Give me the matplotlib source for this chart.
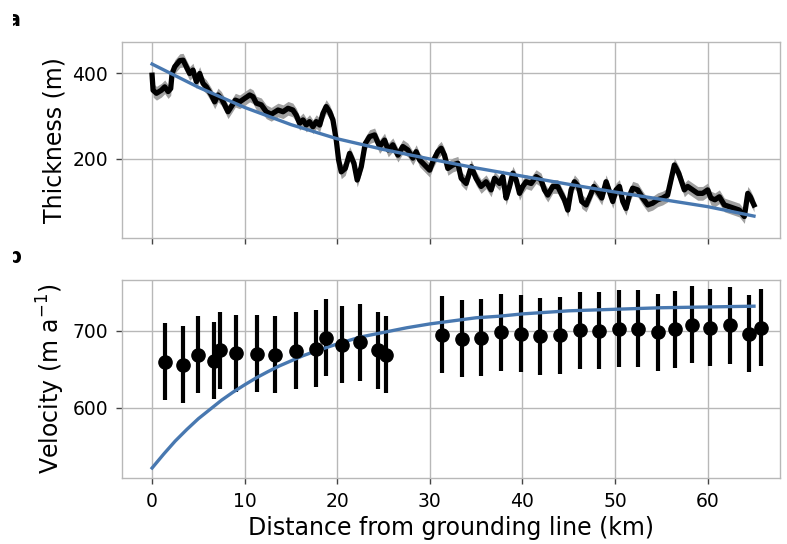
import numpy as np
import matplotlib
matplotlib.use("Agg")
import matplotlib.pyplot as plt
from matplotlib.patches import Rectangle

# thickness profile along flowline (km, m)
thk_x = [0.0, 0.11, 0.47, 1.0, 1.37, 1.73, 2.01, 2.16, 2.45, 2.99, 3.35, 3.7, 4.06, 4.42,
         4.78, 5.14, 5.5, 5.86, 6.4, 6.76, 7.12, 7.48, 7.84, 8.2, 8.56, 8.99, 9.46, 10.0,
         10.54, 10.9, 11.26, 11.8, 12.33, 12.87, 13.3, 13.6, 14.14, 14.68, 15.2, 15.57,
         15.93, 16.3, 16.65, 17.0, 17.37, 17.73, 18.1, 18.45, 18.8, 19.17, 19.53, 19.89,
         20.14, 20.43, 20.86, 21.33, 21.8, 22.15, 22.59, 23.02, 23.49, 24.03, 24.57, 25.1,
         25.5, 26.0, 26.55, 27.08, 27.62, 28.16, 28.52, 28.89, 29.43, 29.97, 30.32, 30.86,
         31.22, 31.58, 31.94, 32.48, 33.02, 33.38, 33.92, 34.46, 34.99, 35.53, 36.07, 36.61,
         36.98, 37.52, 37.88, 38.23, 38.6, 38.96, 39.32, 39.68, 40.03, 40.39, 40.93, 41.47,
         42.01, 42.37, 42.73, 43.27, 43.81, 44.17, 44.53, 44.89, 45.25, 45.61, 46.05, 46.4,
         46.87, 47.34, 47.7, 48.13, 48.56, 49.03, 49.39, 49.75, 50.1, 50.47, 50.83, 51.18,
         51.5, 51.9, 52.44, 52.98, 53.52, 54.05, 54.59, 55.13, 55.67, 56.04, 56.4, 56.87,
         57.12, 57.48, 57.84, 58.38, 58.92, 59.46, 60.0, 60.35, 60.78, 61.26, 61.8, 62.34,
         62.88, 63.42, 63.96, 64.33, 64.6, 65.0]
thk_m = [395, 360, 353, 360, 368, 357, 364, 399, 415, 429, 430, 415, 399, 407,
         380, 399, 376, 368, 349, 333, 349, 341, 326, 310, 322, 337, 333, 341,
         349, 345, 330, 326, 310, 304, 310, 314, 310, 318, 314, 302,
         283, 291, 279, 287, 275, 287, 279, 306, 322, 310, 291, 244,
         198, 170, 178, 213, 190, 151, 182, 236, 252, 256, 229, 244,
         221, 233, 209, 229, 221, 202, 217, 198, 186, 174, 194, 217,
         225, 209, 178, 186, 190, 155, 143, 182, 155, 136, 147, 128,
         155, 143, 159, 109, 136, 167, 151, 120, 136, 147, 143, 159,
         151, 128, 116, 136, 136, 120, 105, 81, 128, 147, 136, 101,
         93, 116, 136, 124, 109, 147, 124, 101, 128, 136, 101, 85,
         112, 132, 128, 109, 93, 97, 105, 109, 116, 151, 186, 167,
         151, 128, 136, 128, 120, 120, 128, 109, 105, 112, 93, 89,
         85, 81, 66, 120, 112, 93]
thk_err = 16

# exponential fit to thickness, sampled every 5 km
thk_fit_x = [0, 5, 10, 15, 20, 25, 30, 35, 40, 45, 50, 55, 60, 65]
thk_fit_m = [421, 367, 320, 280, 247, 222, 200, 179, 160, 141, 123, 106, 89, 67]

# surface velocity measurements with error bars
vel_x = [1.4, 3.3, 5.0, 6.7, 7.3, 9.1, 11.3, 13.3, 15.5, 17.7, 18.8, 20.5, 22.4, 24.4, 25.3,
         31.3, 33.5, 35.5, 37.7, 39.8, 41.9, 44.0, 46.2, 48.3, 50.4, 52.5, 54.6, 56.5, 58.3,
         60.2, 62.4, 64.5, 65.8]
vel_v = [660, 656, 669, 661, 675, 671, 670, 669, 674, 677, 691, 682, 685, 675, 669,
         695, 690, 691, 698, 696, 693, 694, 701, 700, 703, 703, 698, 702, 708,
         704, 707, 696, 704]
vel_err = [50] * len(vel_x)

# velocity model curve
vfit_x = [0, 1.25, 2.5, 3.75, 5, 6.25, 7.5, 8.75, 10, 11.25, 12.5, 13.75, 15, 16.25, 17.5,
          20, 22.5, 25, 27.5, 30, 32.5, 35, 37.5, 40, 42.5, 45, 47.5, 50, 52.5, 55, 57.5,
          60, 62.5, 65]
vfit_v = [522, 540, 557, 572, 586, 598, 610, 620.5, 630, 639, 647, 654.5, 661, 667.5, 673,
          683, 692, 698, 704, 709, 713, 717, 719, 722, 724, 726, 727, 728, 729, 730, 730.5,
          731, 731.5, 732]

blue = "#4878b0"
grid_c = "#b8b8b8"

fig = plt.figure(figsize=(7.87, 5.44), dpi=100)
ax1 = fig.add_axes([0.155, 0.5625, 0.836, 0.360])
ax2 = fig.add_axes([0.155, 0.1213, 0.836, 0.364], sharex=ax1)

for ax in (ax1, ax2):
    ax.grid(True, color=grid_c, lw=1.0)
    ax.set_axisbelow(True)
    for s in ax.spines.values():
        s.set_color(grid_c)
        s.set_linewidth(1.0)
    ax.tick_params(labelsize=13.5, length=4, width=1, color="#444444",
                   direction="out", pad=6)

tx = np.array(thk_x)
tm = np.array(thk_m)
ax1.fill_between(tx, tm - thk_err, tm + thk_err, color="#a0a0a0", lw=0)
ax1.plot(tx, tm, color="black", lw=3.8)
ax1.plot(thk_fit_x, thk_fit_m, color=blue, lw=2.4)
ax1.set_ylim(16, 472)
ax1.set_yticks([200, 400])
ax1.set_ylabel("Thickness (m)", fontsize=17)
plt.setp(ax1.get_xticklabels(), visible=False)

ax2.errorbar(vel_x, vel_v, yerr=vel_err, fmt="o", color="black", ms=9.5,
             elinewidth=3, capsize=0)
ax2.plot(vfit_x, vfit_v, color=blue, lw=2.4)
ax2.set_ylim(509, 766)
ax2.set_yticks([600, 700])
ax2.set_ylabel("Velocity (m a$^{-1}$)", fontsize=17)
ax2.set_xlabel("Distance from grounding line (km)", fontsize=17)
ax2.set_xlim(-3.25, 67.8)
ax2.set_xticks([0, 10, 20, 30, 40, 50, 60])

fig.align_ylabels([ax1, ax2])

# panel letters, partly cut off at the left edge like in the source
fig.text(6 / 787, 1 - 26 / 544, "a", fontsize=15, fontweight="bold", va="baseline")
fig.text(6 / 787, 1 - 263 / 544, "b", fontsize=15, fontweight="bold", va="baseline")
fig.add_artist(Rectangle((0, 0), 13 / 787, 1, transform=fig.transFigure,
                         facecolor="white", edgecolor="none", zorder=10))

fig.savefig("out.png", dpi=100)
